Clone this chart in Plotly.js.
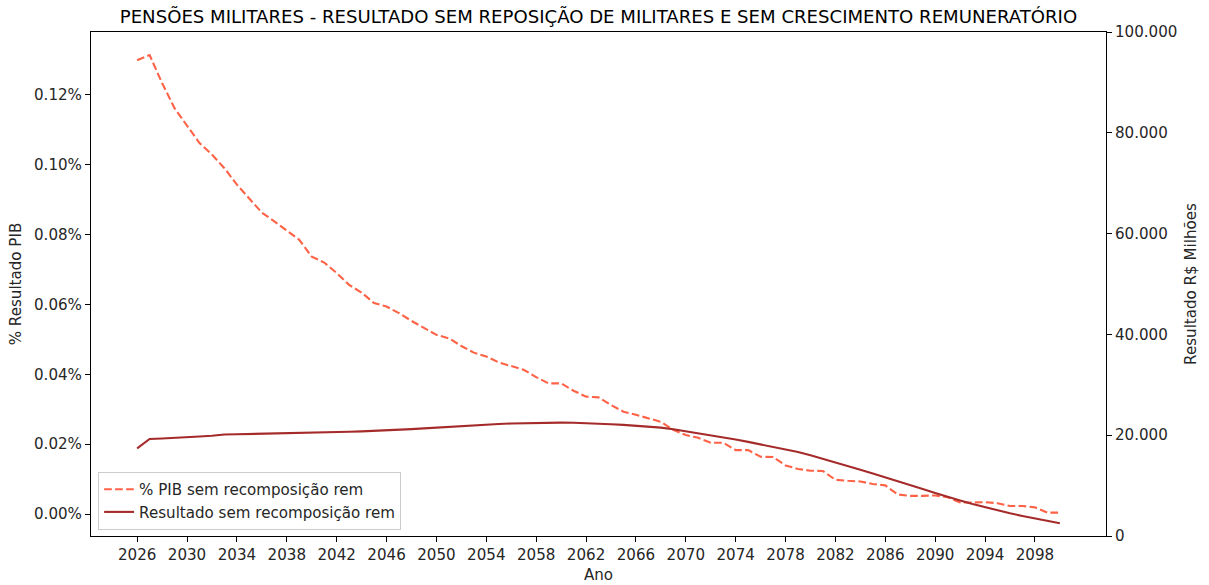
<!DOCTYPE html>
<html>
<head>
<meta charset="utf-8">
<script src="https://cdn.plot.ly/plotly-3.0.1.min.js"></script>
<style>html,body{margin:0;padding:0;background:#fff;}#chart{width:1209px;height:585px;}</style>
</head>
<body>
<div id="chart"></div>
<script>
// Years (Ano)
const anos = [];
for (let a = 2026; a <= 2100; a++) anos.push(a);

// % PIB sem recomposição rem (values in %)
const pctPIB = [
  0.1299, 0.1314, 0.1234, 0.1162, 0.1112, 0.1062, 0.1029, 0.0990, 0.0943, 0.0902,
  0.0863, 0.0838, 0.0812, 0.0785, 0.0737, 0.0720, 0.0690, 0.0656, 0.0634, 0.0604,
  0.0594, 0.0575, 0.0553, 0.0532, 0.0513, 0.0503, 0.0481, 0.0462, 0.0451, 0.0434,
  0.0424, 0.0413, 0.0392, 0.0374, 0.0374, 0.0353, 0.0336, 0.0334, 0.0312, 0.0293,
  0.0284, 0.0274, 0.0264, 0.0241, 0.0226, 0.0218, 0.0204, 0.0204, 0.0183, 0.0183,
  0.0164, 0.0163, 0.0139, 0.0129, 0.0124, 0.0123, 0.0098, 0.0095, 0.0093, 0.0086,
  0.0082, 0.0056, 0.0052, 0.0052, 0.0053, 0.0048, 0.0033, 0.0033, 0.0034, 0.0031,
  0.0023, 0.0023, 0.0019, 0.0004, 0.0004
];

// Resultado sem recomposição rem (R$ milhões)
const resultado = [
  17400, 19250, 19350, 19440, 19580, 19740, 19900, 20140, 20180, 20220,
  20260, 20300, 20340, 20380, 20440, 20520, 20600, 20670, 20750, 20830,
  20950, 21070, 21210, 21350, 21510, 21670, 21830, 21960, 22100, 22220,
  22320, 22400, 22460, 22500, 22500, 22460, 22400, 22300, 22180, 22040,
  21890, 21710, 21510, 21170, 20790, 20380, 19980, 19560, 19130, 18670,
  18190, 17700, 17180, 16670, 16010, 15320, 14600, 13890, 13160, 12400,
  11670, 10910, 10120, 9330, 8530, 7740, 7040, 6350, 5690, 5060,
  4500, 3970, 3450, 2980, 2520
];

// Tick definitions
const xTicks = [2026, 2030, 2034, 2038, 2042, 2046, 2050, 2054, 2058, 2062, 2066, 2070, 2074, 2078, 2082, 2086, 2090, 2094, 2098];
const yLeftTicks = [0.00, 0.02, 0.04, 0.06, 0.08, 0.10, 0.12];
const yLeftLabels = ["0.00%", "0.02%", "0.04%", "0.06%", "0.08%", "0.10%", "0.12%"];
const yRightTicks = [0, 20000, 40000, 60000, 80000, 100000];
const yRightLabels = ["0", "20.000", "40.000", "60.000", "80.000", "100.000"];

const FONT = "DejaVu Sans, Verdana, sans-serif";
const TXT = "#262626";
const FS = 15.1;

const traces = [
  {
    x: anos, y: pctPIB, type: "scatter", mode: "lines",
    name: "% PIB sem recomposição rem",
    line: {color: "#FF6347", width: 2.1, dash: "7.7px,3.3px"},
    yaxis: "y"
  },
  {
    x: anos, y: resultado, type: "scatter", mode: "lines",
    name: "Resultado sem recomposição rem",
    line: {color: "#A52A2A", width: 2.1},
    yaxis: "y2"
  }
];

const axisCommon = {
  showgrid: false, zeroline: false, showline: true, linecolor: "#000", linewidth: 1,
  ticks: "outside", ticklen: 5, tickwidth: 1, tickcolor: "#000",
  tickfont: {family: FONT, size: FS, color: TXT}
};

const layout = {
  width: 1209, height: 585,
  margin: {l: 91, r: 103, t: 32, b: 49, pad: 0},
  paper_bgcolor: "#fff", plot_bgcolor: "#fff",
  font: {family: FONT, color: TXT},
  title: {
    text: "PENSÕES MILITARES - RESULTADO SEM REPOSIÇÃO DE MILITARES E SEM CRESCIMENTO REMUNERATÓRIO",
    font: {family: FONT, size: 18.1, color: "#000"},
    x: 0.5, xref: "paper", xanchor: "center",
    y: 1 - 17 / 585, yref: "container", yanchor: "middle"
  },
  xaxis: Object.assign({}, axisCommon, {
    range: [2022.3, 2103.7], tickmode: "array", tickvals: xTicks,
    ticktext: xTicks.map(String), mirror: true,
    title: {text: "Ano", font: {family: FONT, size: FS, color: TXT}, standoff: 6}
  }),
  yaxis: Object.assign({}, axisCommon, {
    range: [-0.0063, 0.138], tickmode: "array", tickvals: yLeftTicks, ticktext: yLeftLabels,
    title: {text: "% Resultado PIB", font: {family: FONT, size: FS, color: TXT}, standoff: 8}
  }),
  yaxis2: Object.assign({}, axisCommon, {
    overlaying: "y", side: "right",
    range: [0, 100000], tickmode: "array", tickvals: yRightTicks, ticktext: yRightLabels,
    title: {text: "Resultado R$ Milhões", font: {family: FONT, size: FS, color: TXT}, standoff: 8}
  }),
  showlegend: true,
  legend: {
    x: 0.007, y: 0.012, xanchor: "left", yanchor: "bottom",
    bgcolor: "rgba(255,255,255,0.8)", bordercolor: "#cccccc", borderwidth: 1,
    font: {family: FONT, size: FS, color: TXT},
    tracegroupgap: 0
  }
};

Plotly.newPlot("chart", traces, layout, {displayModeBar: false, staticPlot: true});
</script>
</body>
</html>
